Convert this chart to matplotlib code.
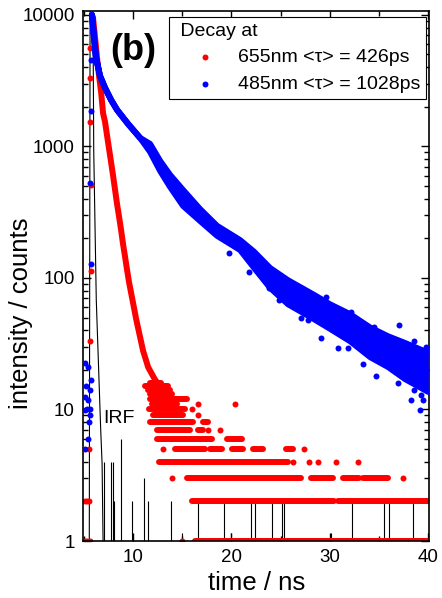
import matplotlib.pyplot as plt
from matplotlib.ticker import FixedLocator, FixedFormatter, LogLocator, NullFormatter, MultipleLocator

plt.rcParams['font.family'] = ['Liberation Sans', 'DejaVu Sans']

# ---- values ----
# 655 nm decay (red): main part of the curve
red_t = [5.83, 5.93, 6.14, 6.34, 6.54, 6.75, 6.95, 7.15, 7.36, 7.56, 7.76, 7.97, 8.17,
         8.37, 8.58, 8.78, 8.98, 9.19, 9.39, 9.59, 9.80, 10.0, 10.31, 10.71, 11.02,
         11.53, 12.24, 13.25]
red_c = [9800, 9490, 6680, 4710, 3436, 2596, 1790, 1535, 1202, 957, 762, 597, 467,
         365, 291, 232, 181, 144, 115, 93, 77, 64.5, 48.8, 35.6, 27.9,
         21, 16.8, 13.6]
# red tail: runs of equal integer counts (level, from, to)
red_lvl = [16, 15, 14, 13, 12, 11, 10, 9, 8, 8, 7, 7, 6, 6, 5, 5, 5, 5, 5,
           4, 3, 3, 3, 3, 2, 2, 1]
red_t0 = [11.7, 11.2, 11.5, 11.7, 11.73, 11.93, 11.63, 12.03, 11.73, 17.12, 12.44, 16.61,
          12.44, 19.56, 14.27, 17.83, 20.07, 22.20, 25.56,
          12.64, 15.49, 28.10, 31.36, 33.39, 16.00, 30.80, 16.31]
red_t1 = [12.8, 13.5, 13.8, 14.0, 15.49, 14.47, 15.29, 15.08, 16.10, 17.63, 15.80, 17.12,
          18.03, 21.08, 17.32, 19.05, 21.19, 23.22, 26.27,
          25.76, 27.09, 30.34, 32.98, 35.93, 30.40, 40.2, 40.2]
# red single points (rising edge and isolated tail points)
red_iso_t = [5.63, 5.63, 5.63, 5.73, 5.73, 5.63, 5.53, 5.12, 5.32, 5.53, 5.12, 5.32, 5.63,
             13.05, 13.97, 14.98, 16.0, 16.61, 16.61, 17.63, 18.85, 20.37,
             26.27, 27.39, 27.90, 28.81, 30.64, 32.88, 37.46]
red_iso_c = [5600, 3320, 1535, 510, 113, 33, 5, 2, 2, 2, 1, 1, 1,
             5, 3, 1, 10, 11, 9, 7, 7, 11,
             4, 5, 4, 4, 4, 4, 3]

# 485 nm decay (blue): band centre and its upper / lower edge
blue_t = [5.83, 6.03, 6.24, 6.64, 7.15, 7.76, 8.37, 9.49, 10.71, 11.73, 12.75, 13.76,
          15.08, 16.81, 18.54, 20.88, 22.31, 23.93, 25.76, 28.31, 30.03, 32.07,
          34.10, 35.93, 37.66, 40.0]
blue_c = [10000, 6680, 4710, 3436, 2785, 2260, 1896, 1483, 1161, 974, 711, 547,
          406, 301, 228, 178, 137, 100, 78, 61, 51, 41.7,
          32.6, 27.4, 23.4, 19.3]
blue_hi = [10000, 6680, 4710, 3436, 2785, 2260, 1896, 1483, 1161, 1045, 776, 608,
           467, 334, 249, 194, 158, 119, 96, 75, 63, 53,
           42, 36, 32, 27]
blue_lo = [10000, 6680, 4710, 3436, 2785, 2260, 1896, 1483, 1161, 908, 651, 492,
           353, 271, 209, 163, 119, 84, 63, 49, 41, 33,
           25, 21, 17, 13.6]
# blue single points (rising edge, early background, scattered tail)
blue_iso_t = [5.73, 5.73, 5.63, 5.73, 5.12, 5.42, 5.73, 5.22, 5.63, 5.12, 5.42, 5.12,
              5.63, 5.53, 5.32, 5.63, 5.42, 5.12,
              21.80, 27.80, 37.05, 30.85, 31.86, 33.39, 34.71, 36.95, 38.58, 39.29,
              38.27, 39.49, 39.18,
              19.76, 23.83, 24.85, 29.6, 32.2, 34.5, 38.6, 39.8,
              27.1, 29.1, 35.2, 37.8]
blue_iso_c = [4550, 1862, 527, 128, 22.5, 21, 16.7, 15, 14, 12.5, 11.8, 9.9,
              9, 8, 10, 10, 6, 5,
              111, 48, 44, 29.4, 29.4, 22.2, 18, 15.9, 14.1, 12.9,
              11.8, 11.8, 9.9,
              155, 84, 68, 72, 55, 42, 33, 30,
              50, 35, 24.6, 20.7]

# instrument response function
irf_t = [5.55, 5.60, 5.63, 5.73, 5.88, 5.93, 6.00, 6.26, 6.71, 6.85, 6.95]
irf_c = [1, 300, 11000, 11000, 11000, 9500, 940, 68, 7, 3.9, 1]
irf_spk_t = [7.08, 7.77, 7.94, 8.10, 8.75, 9.93, 11.12, 11.5, 13.86, 14.98, 16.6,
             19.25, 19.97, 22.0, 22.4, 24.1, 25.15, 25.36, 30.14, 32.27, 35.53,
             36.03, 38.47]
irf_spk_c = [4, 4, 4, 2, 6, 2, 3, 2, 2, 1.15, 2,
             2, 1.15, 2, 2, 2, 2, 2, 1.15, 2, 2,
             2, 2]

RED = '#ff0000'
BLUE = '#0000ff'
DOT = 4.3  # dot diameter in points

fig = plt.figure(figsize=(4.42, 5.98), dpi=100)
ax = fig.add_axes([0.188, 0.0953, 0.783, 0.8863])

# IRF
ax.plot(irf_t, irf_c, color='black', lw=0.8, zorder=1)
ax.vlines(irf_spk_t, 1, irf_spk_c, color='black', lw=0.8, zorder=1)

# red decay
ax.plot(red_t, red_c, color=RED, lw=DOT, solid_capstyle='round',
        solid_joinstyle='round', zorder=2)
ax.hlines(red_lvl, red_t0, red_t1, color=RED, lw=DOT, capstyle='round', zorder=2)
ax.scatter(red_iso_t, red_iso_c, s=DOT ** 2, color=RED, lw=0, zorder=2,
           label='655nm <τ> = 426ps')

# blue decay
ax.fill_between(blue_t, blue_lo, blue_hi, color=BLUE, lw=0, zorder=3)
for yy in (blue_c, blue_hi, blue_lo):
    ax.plot(blue_t, yy, color=BLUE, lw=DOT, solid_capstyle='round',
            solid_joinstyle='round', zorder=3)
ax.scatter(blue_iso_t, blue_iso_c, s=DOT ** 2, color=BLUE, lw=0, zorder=3,
           label='485nm <τ> = 1028ps')

ax.text(6.95, 8.6, 'IRF', fontsize=14, ha='left', va='center')
ax.text(0.1445, 0.926, '(b)', transform=ax.transAxes, fontsize=26,
        fontweight='bold', ha='center', va='center')

ax.set_yscale('log')
ax.set_xlim(4.92, 40.1)
ax.set_ylim(1, 10700)
yt = [1, 10, 100, 1000, 10000]
ax.yaxis.set_major_locator(FixedLocator(yt))
ax.yaxis.set_major_formatter(FixedFormatter([str(v) for v in yt]))
ax.yaxis.set_minor_locator(LogLocator(base=10, subs=range(2, 10)))
ax.yaxis.set_minor_formatter(NullFormatter())
ax.xaxis.set_major_locator(FixedLocator([10, 20, 30, 40]))
ax.xaxis.set_minor_locator(MultipleLocator(5))

ax.tick_params(which='both', direction='in', top=True, right=True,
               labelsize=13.5, width=1.0)
ax.tick_params(which='major', length=6, pad=6)
ax.tick_params(which='minor', length=3.5)
for s in ax.spines.values():
    s.set_linewidth(1.2)

ax.set_xlabel('time / ns', fontsize=18.5, labelpad=3)
ax.set_ylabel('intensity / counts', fontsize=18.5)
ax.yaxis.set_label_coords(-0.145, 0.43)

leg = ax.legend(title=' Decay at', loc='upper right', bbox_to_anchor=(0.99, 0.989),
                fontsize=14, title_fontsize=14, alignment='left',
                frameon=True, fancybox=False, edgecolor='black', framealpha=1,
                borderpad=0.3, labelspacing=0.46, handlelength=3.1,
                handletextpad=0.1, scatterpoints=1, borderaxespad=0)
leg.get_frame().set_linewidth(0.8)

fig.savefig('out.png', dpi=100)
